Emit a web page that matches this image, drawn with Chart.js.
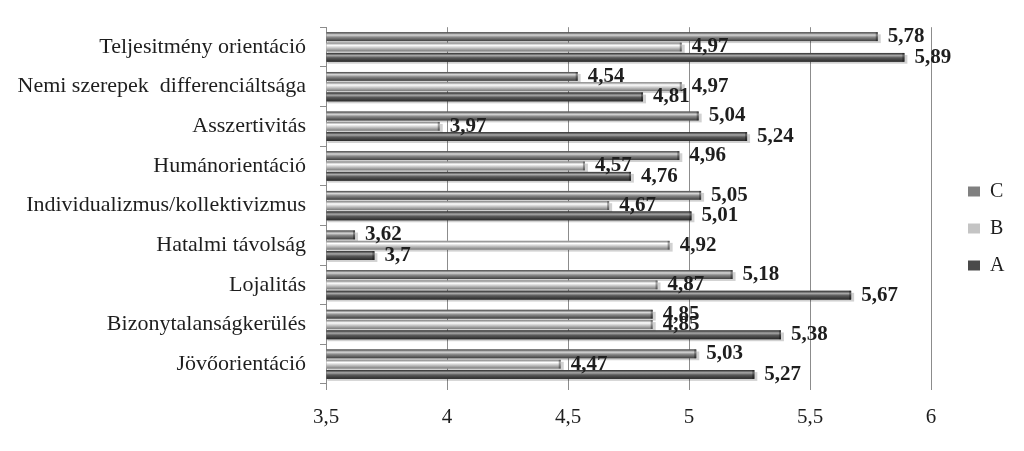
<!DOCTYPE html>
<html lang="hu">
<head>
  <meta charset="UTF-8" />
  <title>Kulturális dimenziók</title>
  <script src="https://cdn.jsdelivr.net/npm/chart.js"></script>
  <style>
    * { margin: 0; padding: 0; box-sizing: border-box; }
    body { background: #fff; }
    .wrap { width: 1024px; height: 451px; position: relative; }
  </style>
</head>
<body>
  <div class="wrap">
    <canvas id="chart"></canvas>
  </div>

  <script>
    // data (top to bottom as in the picture)
    const categories = [
      'Teljesitmény orientáció',
      'Nemi szerepek  differenciáltsága',
      'Asszertivitás',
      'Humánorientáció',
      'Individualizmus/kollektivizmus',
      'Hatalmi távolság',
      'Lojalitás',
      'Bizonytalanságkerülés',
      'Jövőorientáció'
    ];
    const seriesC = [5.78, 4.54, 5.04, 4.96, 5.05, 3.62, 5.18, 4.85, 5.03];
    const seriesB = [4.97, 4.97, 3.97, 4.57, 4.67, 4.92, 4.87, 4.85, 4.47];
    const seriesA = [5.89, 4.81, 5.24, 4.76, 5.01, 3.7, 5.67, 5.38, 5.27];
    const xTicks = [3.5, 4, 4.5, 5, 5.5, 6];

    const serif = "'Liberation Serif', 'DejaVu Serif', serif";
    const fmt = v => String(v).replace('.', ',');

    // edge / highlight colours for the cylinder look
    const shades = [
      { edge: '#3f3f3f', light: '#d8d8d8', mid: '#8a8a8a' },  // C
      { edge: '#7a7a7a', light: '#ffffff', mid: '#cfcfcf' },  // B
      { edge: '#2a2a2a', light: '#a8a8a8', mid: '#5a5a5a' }   // A
    ];

    function barBox(el) {
      const p = el.getProps(['x', 'y', 'base', 'height'], true);
      return { left: Math.min(p.base, p.x), right: Math.max(p.base, p.x), top: p.y - p.height / 2, h: p.height, y: p.y, x: p.x };
    }

    const barLook = {
      id: 'barLook',
      afterInit(chart) {
        const legend = chart.legend;
        const fit = legend.fit;
        legend.fit = function () { fit.call(this); this.width = 93; };
      },
      afterLayout(chart) {
        const lg = chart.legend;
        lg.left += 20; lg.right += 20;
        lg.top -= 9; lg.bottom -= 9;
      },
      beforeDatasetsDraw(chart) {
        const ctx = chart.ctx;
        ctx.save();
        chart.data.datasets.forEach((ds, i) => {
          chart.getDatasetMeta(i).data.forEach(el => {
            const b = barBox(el);
            ctx.fillStyle = 'rgba(0,0,0,0.18)';
            ctx.fillRect(b.left + 1, b.top + 2, b.right - b.left + 2, b.h);
          });
        });
        ctx.restore();
      },
      afterDatasetsDraw(chart) {
        const ctx = chart.ctx;
        ctx.save();
        chart.data.datasets.forEach((ds, i) => {
          const s = shades[i];
          chart.getDatasetMeta(i).data.forEach((el, j) => {
            const b = barBox(el);
            const g = ctx.createLinearGradient(0, b.top, 0, b.top + b.h);
            g.addColorStop(0, s.edge);
            g.addColorStop(0.3, s.light);
            g.addColorStop(0.55, s.mid);
            g.addColorStop(1, s.edge);
            ctx.fillStyle = g;
            ctx.fillRect(b.left, b.top, b.right - b.left, b.h);
            ctx.fillStyle = 'rgba(0,0,0,0.35)';
            ctx.fillRect(b.right - 2, b.top, 2, b.h);
          });
        });
        // value labels
        ctx.font = 'bold 21px ' + serif;
        ctx.fillStyle = '#1e1e1e';
        ctx.textBaseline = 'middle';
        ctx.textAlign = 'left';
        chart.data.datasets.forEach((ds, i) => {
          chart.getDatasetMeta(i).data.forEach((el, j) => {
            const b = barBox(el);
            ctx.fillText(fmt(ds.data[j]), b.right + 10, b.y);
          });
        });
        ctx.restore();
      }
    };

    new Chart(document.getElementById('chart'), {
      type: 'bar',
      data: {
        labels: categories,
        datasets: [
          { label: 'C', data: seriesC, backgroundColor: '#808080', borderWidth: 0 },
          { label: 'B', data: seriesB, backgroundColor: '#c4c4c4', borderWidth: 0 },
          { label: 'A', data: seriesA, backgroundColor: '#4a4a4a', borderWidth: 0 }
        ]
      },
      options: {
        indexAxis: 'y',
        responsive: true,
        maintainAspectRatio: false,
        animation: false,
        base: 3.5,
        categoryPercentage: 0.78,
        barPercentage: 0.85,
        layout: { padding: { top: 24, left: 0, right: 0, bottom: 0 } },
        plugins: {
          tooltip: { enabled: false },
          legend: {
            position: 'right',
            align: 'center',
            labels: {
              color: '#1e1e1e',
              font: { family: serif, size: 20 },
              boxWidth: 12,
              boxHeight: 10,
              padding: 17
            }
          }
        },
        scales: {
          x: {
            min: 3.5,
            max: 6,
            afterBuildTicks: scale => { scale.ticks = xTicks.map(v => ({ value: v })); },
            afterFit: scale => { scale.height = 67; },
            ticks: {
              color: '#1e1e1e',
              font: { family: serif, size: 21 },
              padding: 15,
              callback: v => fmt(v)
            },
            grid: { color: '#8c8c8c', lineWidth: 1, tickLength: 6 },
            border: { display: false }
          },
          y: {
            afterFit: scale => { scale.width = 326; },
            ticks: {
              color: '#1e1e1e',
              font: { family: serif, size: 22 },
              padding: 14
            },
            grid: { drawOnChartArea: false, color: '#8c8c8c', tickLength: 6 },
            border: { display: true, color: '#8c8c8c' }
          }
        }
      },
      plugins: [barLook]
    });
  </script>
</body>
</html>
